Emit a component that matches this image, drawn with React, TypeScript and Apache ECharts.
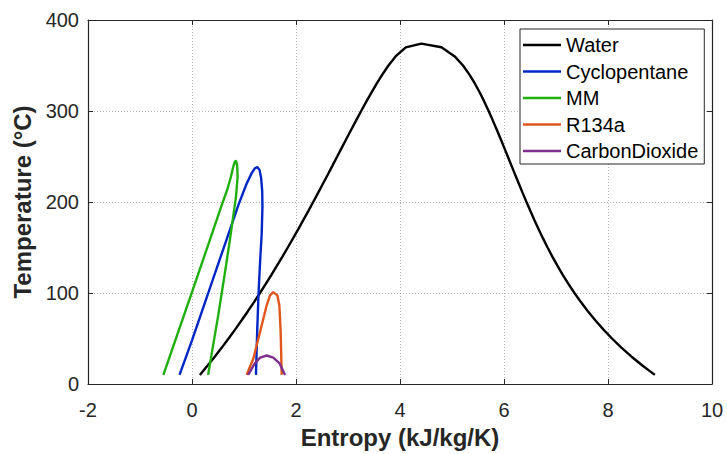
import React, { useEffect, useRef } from "react";
import * as echarts from "echarts";

// Water saturation dome (liquid side up, vapour side down)
const waterS = [0.151, 0.2966, 0.4369, 0.5725, 0.7038, 0.8312, 0.9549, 1.0753, 1.1925, 1.3069, 1.4185, 1.5276, 1.6344, 1.7391, 1.8418, 1.9427, 2.0419, 2.1396, 2.2359, 2.3309, 2.4248, 2.5178, 2.6099, 2.7015, 2.7927, 2.8838, 2.9751, 3.0668, 3.1594, 3.2534, 3.3493, 3.448, 3.5507, 3.6594, 3.7777, 3.9147, 4.1106, 4.41,
  4.7971, 5.0526, 5.2112, 5.3357, 5.4417, 5.5362, 5.623, 5.7045, 5.7821, 5.8571, 5.9301, 6.0019, 6.073, 6.1437, 6.2146, 6.2861, 6.3585, 6.4323, 6.5079, 6.5857, 6.6663, 6.7502, 6.8379, 6.9299, 7.0269, 7.1296, 7.2387, 7.3549, 7.4791, 7.6122, 7.7553, 7.9096, 8.0763, 8.257, 8.4533, 8.6672, 8.9008];
const waterT = [10, 20, 30, 40, 50, 60, 70, 80, 90, 100, 110, 120, 130, 140, 150, 160, 170, 180, 190, 200, 210, 220, 230, 240, 250, 260, 270, 280, 290, 300, 310, 320, 330, 340, 350, 360, 370, 374,
  370, 360, 350, 340, 330, 320, 310, 300, 290, 280, 270, 260, 250, 240, 230, 220, 210, 200, 190, 180, 170, 160, 150, 140, 130, 120, 110, 100, 90, 80, 70, 60, 50, 40, 30, 20, 10];

const cycloS = [-0.24, 0.0, 0.3, 0.6, 0.9, 1.05, 1.15, 1.21, 1.256, 1.3, 1.33, 1.35, 1.355, 1.34, 1.31, 1.28, 1.255, 1.23];
const cycloT = [10, 48, 98, 148, 198, 220, 232, 237, 238.5, 235, 226, 212, 195, 165, 135, 100, 60, 10];

const mmS = [-0.55, -0.2, 0.0, 0.3, 0.55, 0.68, 0.75, 0.79, 0.82, 0.845, 0.868, 0.878, 0.846, 0.795, 0.73, 0.635, 0.506, 0.31];
const mmT = [10, 68, 101, 151, 193, 214, 228, 238, 244, 245.5, 240, 228, 206, 185, 159, 123, 76, 10];

const r134aS = [1.05, 1.18, 1.31, 1.436, 1.5, 1.564, 1.64, 1.68, 1.705, 1.725];
const r134aT = [10, 28, 57.5, 86.5, 97.4, 101, 97.4, 86.5, 57.5, 10];

const co2S = [1.08, 1.21, 1.31, 1.436, 1.564, 1.68, 1.79];
const co2T = [10, 23, 29, 31.3, 29, 23, 10];

const xTicks = { min: -2, max: 10, interval: 2 };
const yTicks = { min: 0, max: 400, interval: 100 };

const seriesDefs = [
  { name: "Water", s: waterS, t: waterT, color: "#000000" },
  { name: "Cyclopentane", s: cycloS, t: cycloT, color: "#0026c8" },
  { name: "MM", s: mmS, t: mmT, color: "#1fb010" },
  { name: "R134a", s: r134aS, t: r134aT, color: "#e0561c" },
  { name: "CarbonDioxide", s: co2S, t: co2T, color: "#7e2f8e" },
];

const FONT = "'Liberation Sans', Arial, Helvetica, sans-serif";
const AX = "#262626";

export default function App() {
  const ref = useRef<HTMLDivElement>(null);
  useEffect(() => {
    if (!ref.current) return;
    const chart = echarts.init(ref.current, undefined, { renderer: "svg" });
    const tickStyle = { show: true, inside: true, length: 5, lineStyle: { color: AX, width: 1 } };
    const axisLine = { show: true, onZero: false, lineStyle: { color: AX, width: 1.2 } };
    chart.setOption({
      animation: false,
      backgroundColor: "#ffffff",
      grid: { left: 88, right: 15, top: 20, bottom: 68, containLabel: false },
      legend: {
        orient: "vertical",
        left: 520,
        top: 29,
        padding: [6, 6, 3, 3],
        itemWidth: 38,
        itemHeight: 2.4,
        itemGap: 6.5,
        icon: "rect",
        borderColor: AX,
        borderWidth: 1,
        backgroundColor: "#ffffff",
        textStyle: { fontFamily: FONT, fontSize: 20, color: "#000000", lineHeight: 20 },
        data: seriesDefs.map((d) => d.name),
      },
      xAxis: [
        {
          type: "value",
          position: "bottom",
          ...xTicks,
          name: "Entropy (kJ/kg/K)",
          nameLocation: "middle",
          nameGap: 41,
          nameTextStyle: { fontFamily: FONT, fontSize: 24, fontWeight: "bold", color: AX },
          axisLine,
          axisTick: tickStyle,
          axisLabel: { fontFamily: FONT, fontSize: 20, color: AX, margin: 16 },
          splitLine: { show: true, lineStyle: { type: [1, 2], color: "#b4b4b4", width: 1 } },
        },
        {
          type: "value",
          position: "top",
          ...xTicks,
          axisLine,
          axisTick: tickStyle,
          axisLabel: { show: false },
          splitLine: { show: false },
        },
      ],
      yAxis: [
        {
          type: "value",
          position: "left",
          ...yTicks,
          name: "Temperature (°C)",
          nameLocation: "middle",
          nameGap: 52,
          nameTextStyle: { fontFamily: FONT, fontSize: 24, fontWeight: "bold", color: AX },
          axisLine,
          axisTick: tickStyle,
          axisLabel: { fontFamily: FONT, fontSize: 20, color: AX, margin: 9 },
          splitLine: { show: true, lineStyle: { type: [1, 2], color: "#b4b4b4", width: 1 } },
        },
        {
          type: "value",
          position: "right",
          ...yTicks,
          axisLine,
          axisTick: tickStyle,
          axisLabel: { show: false },
          splitLine: { show: false },
        },
      ],
      series: seriesDefs.map((d) => ({
        name: d.name,
        type: "line",
        xAxisIndex: 0,
        yAxisIndex: 0,
        symbol: "none",
        smooth: false,
        color: d.color,
        lineStyle: { color: d.color, width: 2.4 },
        data: d.s.map((v, i) => [v, d.t[i]]),
      })),
    });
    return () => chart.dispose();
  }, []);
  return (
    <div
      ref={ref}
      style={{ position: "fixed", left: 0, top: 0, width: 727, height: 454 }}
    />
  );
}
